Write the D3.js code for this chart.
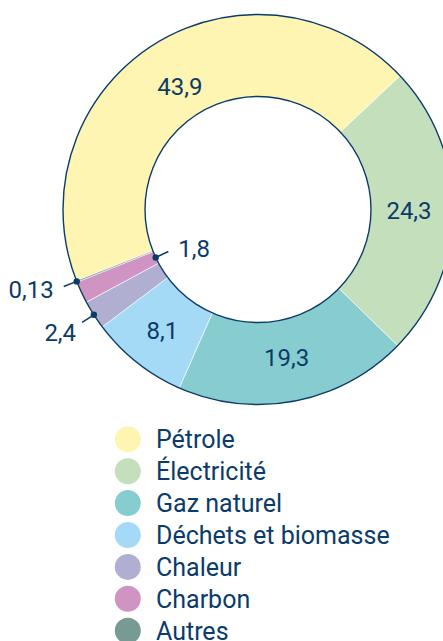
<!DOCTYPE html>
<html>
<head>
<meta charset="utf-8">
<script src="https://cdn.jsdelivr.net/npm/d3@7"></script>
<style>
  html, body { margin: 0; padding: 0; background: #ffffff; }
  svg { display: block; }
</style>
</head>
<body>
<svg id="chart" width="443" height="641"></svg>
<script>
// ---- Data ----
const categories = ["Pétrole", "Électricité", "Gaz naturel", "Déchets et biomasse", "Chaleur", "Charbon", "Autres"];
const values = [43.9, 24.3, 19.3, 8.1, 2.4, 1.8, 0.13];
const valueLabels = ["43,9", "24,3", "19,3", "8,1", "2,4", "1,8", "0,13"];
const colors = ["#FFF5B3", "#C4DFBC", "#87CDD0", "#A4DAF6", "#B1AFD1", "#CF94C2", "#789A95"];

// ---- Layout ----
const W = 443, H = 641;
const cx = 258, cy = 209.5;
const R = 195, r = 113;
const navy = "#0B3B69";
const fontFam = "Roboto, 'Noto Sans', sans-serif";
const deg = Math.PI / 180;

const svg = d3.select("#chart");
const data = categories.map((c, i) => ({ name: c, value: values[i], label: valueLabels[i], color: colors[i] }));

const pie = d3.pie().sort(null).value(d => d.value)
  .startAngle(-111.4 * deg).endAngle(248.6 * deg);
const arcs = pie(data);
const arc = d3.arc().innerRadius(r).outerRadius(R);

const g = svg.append("g").attr("transform", `translate(${cx},${cy})`);

g.selectAll("path.slice").data(arcs).enter().append("path")
  .attr("class", "slice")
  .attr("d", arc)
  .attr("fill", d => d.data.color)
  .attr("stroke", "#ffffff")
  .attr("stroke-width", 0.6);

// outlines
g.append("circle").attr("r", R).attr("fill", "none").attr("stroke", navy).attr("stroke-width", 1.4);
g.append("circle").attr("r", r).attr("fill", "none").attr("stroke", navy).attr("stroke-width", 1.4);

// helpers
const polar = (a, rad) => [rad * Math.sin(a), -rad * Math.cos(a)];
const mid = d => (d.startAngle + d.endAngle) / 2;

// inside labels for large slices
const labelRadius = { "Pétrole": 146, "Électricité": 151, "Gaz naturel": 151, "Déchets et biomasse": 154 };
arcs.filter(d => labelRadius[d.data.name]).forEach(d => {
  const [x, y] = polar(mid(d), labelRadius[d.data.name]);
  g.append("text")
    .attr("x", x).attr("y", y)
    .attr("dy", "0.35em")
    .attr("text-anchor", "middle")
    .attr("font-family", fontFam)
    .attr("font-size", 24)
    .attr("fill", navy)
    .text(d.data.label);
});

// callout labels for small slices
const callouts = {
  "Chaleur": { edge: "outer", anchor: "end", dx: -6, dy: 19 },
  "Charbon": { edge: "inner", anchor: "start", dx: 10, dy: 5 },
  "Autres": { edge: "outer", anchor: "end", dx: -10, dy: 11 }
};
arcs.filter(d => callouts[d.data.name]).forEach(d => {
  const c = callouts[d.data.name];
  const a = mid(d);
  const r0 = c.edge === "outer" ? R : r;
  const r1 = c.edge === "outer" ? R + 14 : r - 14;
  const p0 = polar(a, r0), p1 = polar(a, r1);
  g.append("line")
    .attr("x1", p0[0]).attr("y1", p0[1])
    .attr("x2", p1[0]).attr("y2", p1[1])
    .attr("stroke", navy).attr("stroke-width", 1.5);
  g.append("circle").attr("cx", p0[0]).attr("cy", p0[1]).attr("r", 3.2).attr("fill", navy);
  g.append("text")
    .attr("x", p1[0] + c.dx).attr("y", p1[1] + c.dy)
    .attr("text-anchor", c.anchor)
    .attr("font-family", fontFam)
    .attr("font-size", 24)
    .attr("fill", navy)
    .text(d.data.label);
});

// ---- Legend ----
const legendY = d3.scalePoint().domain(categories).range([439.3, 630.7]);
const legend = svg.append("g");
const rows = legend.selectAll("g.row").data(data).enter().append("g")
  .attr("class", "row")
  .attr("transform", d => `translate(0,${legendY(d.name)})`);
rows.append("circle").attr("cx", 127.8).attr("cy", 0).attr("r", 13).attr("fill", d => d.color);
rows.append("text")
  .attr("x", 156).attr("y", 9)
  .attr("font-family", fontFam)
  .attr("font-size", 25)
  .attr("fill", navy)
  .text(d => d.name);
</script>
</body>
</html>
